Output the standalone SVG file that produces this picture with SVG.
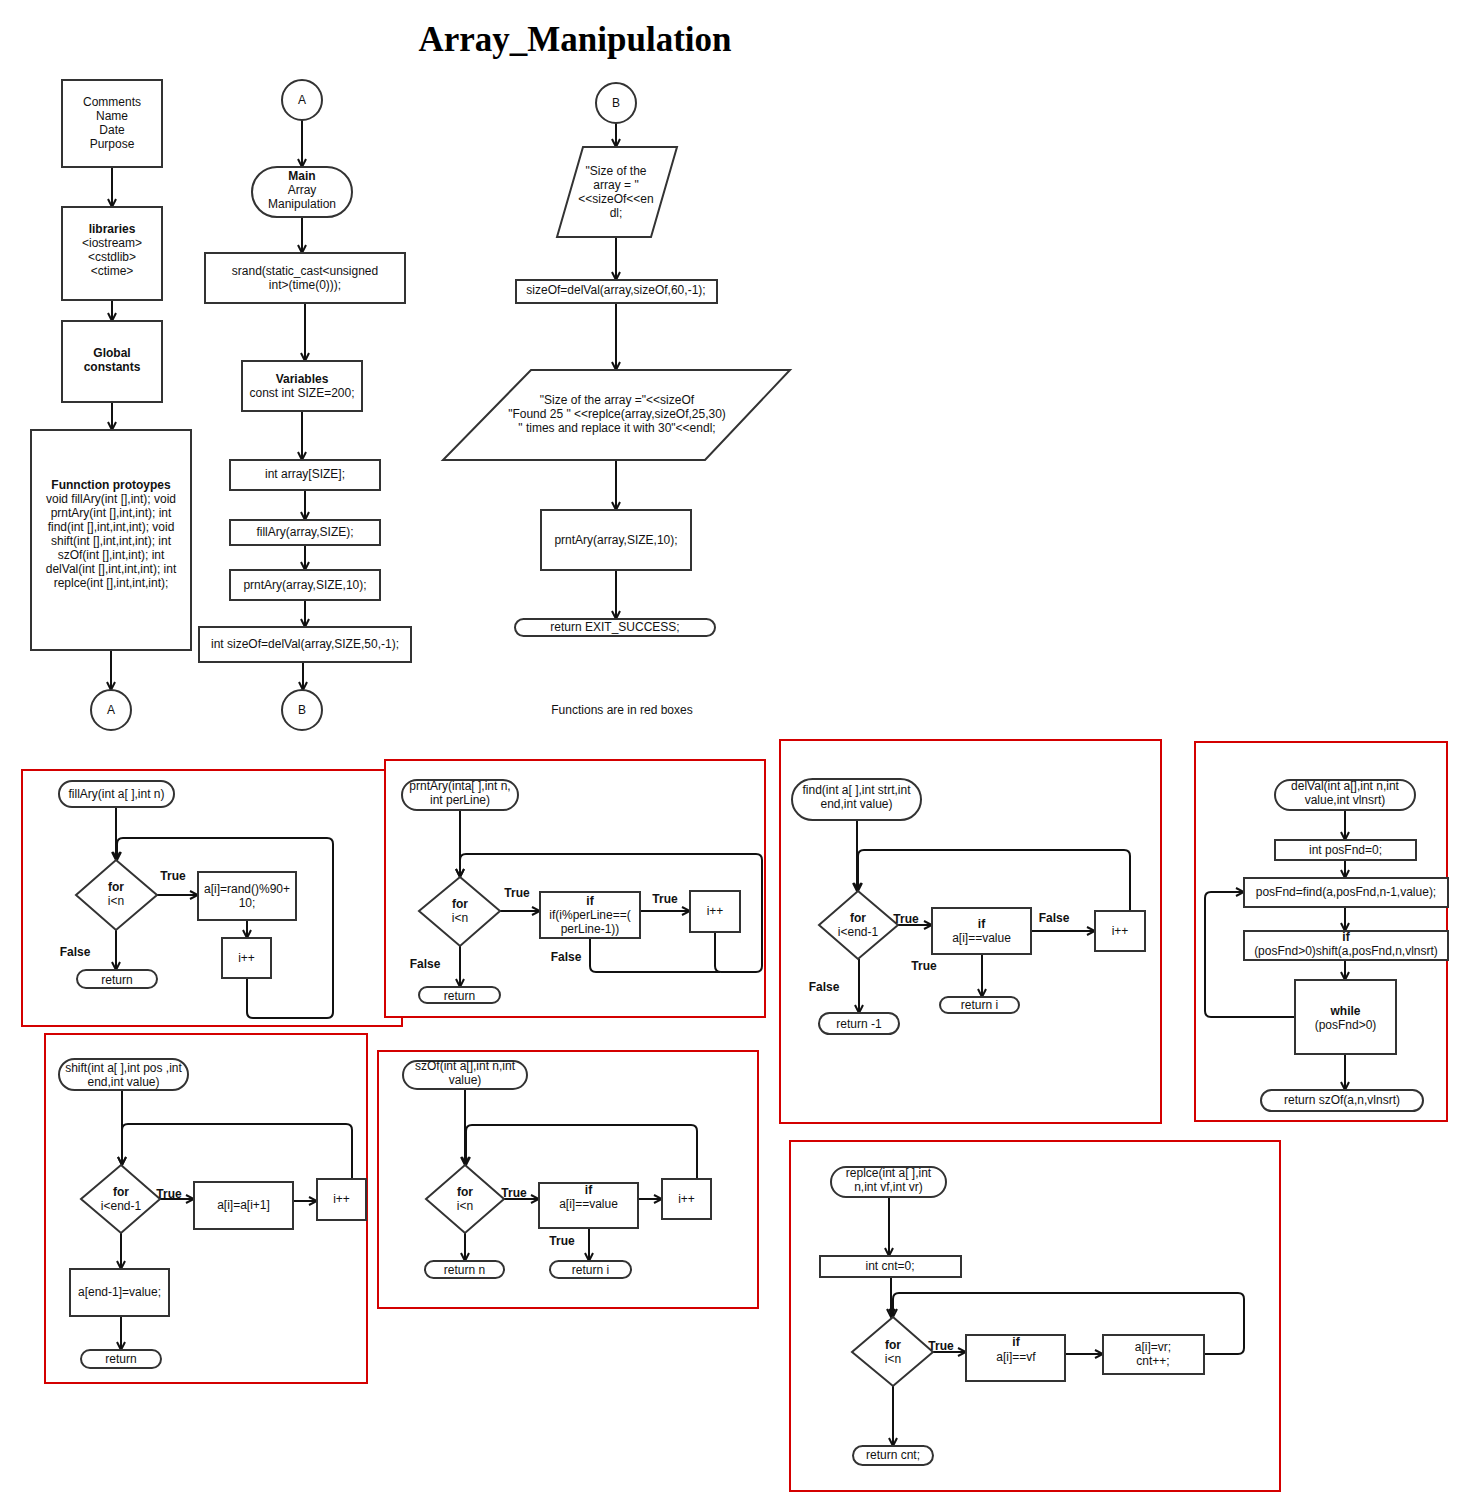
<svg xmlns="http://www.w3.org/2000/svg" width="1484" height="1511" viewBox="0 0 1484 1511">
<defs>
<style>
.n{fill:#fff;stroke:#333;stroke-width:2}
.t{font-family:"Liberation Sans",Arial,sans-serif;font-size:12px;fill:#111;text-anchor:middle}
.b{font-weight:bold}
.c{fill:none;stroke:#111;stroke-width:2;marker-end:url(#ah)}
.l{fill:none;stroke:#111;stroke-width:2}
.r{fill:#fff;stroke:#d40000;stroke-width:2}
.title{font-family:"Liberation Serif","Times New Roman",serif;font-size:35px;font-weight:bold;fill:#000;text-anchor:middle}
</style>
<marker id="ah" viewBox="0 0 10 10" refX="9" refY="5" markerWidth="10" markerHeight="10" markerUnits="userSpaceOnUse" orient="auto"><path d="M1,1 L9,5 L1,9" fill="none" stroke="#111" stroke-width="2"/></marker>
</defs>
<rect width="1484" height="1511" fill="#fff"/>
<text class="title" x="575" y="51">Array_Manipulation</text>

<!-- Red function frames -->
<g id="frames">
<rect class="r" x="22" y="770" width="380" height="256"/>
<rect class="r" x="385" y="760" width="380" height="257"/>
<rect class="r" x="780" y="740" width="381" height="383"/>
<rect class="r" x="1195" y="742" width="252" height="379"/>
<rect class="r" x="45" y="1034" width="322" height="349"/>
<rect class="r" x="378" y="1051" width="380" height="257"/>
<rect class="r" x="790" y="1141" width="490" height="350"/>
</g>

<!-- Connectors -->
<g id="connectors">
<path class="c" d="M112,167 V207"/>
<path class="c" d="M112,300 V321"/>
<path class="c" d="M112,402 V430"/>
<path class="c" d="M111,650 V690"/>
<path class="c" d="M302,120 V167"/>
<path class="c" d="M302,217 V253"/>
<path class="c" d="M305,303 V361"/>
<path class="c" d="M302,411 V460"/>
<path class="c" d="M305,490 V520"/>
<path class="c" d="M305,545 V570"/>
<path class="c" d="M305,600 V627"/>
<path class="c" d="M303,662 V690"/>
<path class="c" d="M616,123 V147"/>
<path class="c" d="M616,237 V280"/>
<path class="c" d="M616,303 V370"/>
<path class="c" d="M616,460 V510"/>
<path class="c" d="M616,570 V619"/>
<!-- fillAry -->
<path class="c" d="M116,807 V860"/>
<path class="c" d="M157,895 H198"/>
<path class="c" d="M247,920 V938"/>
<path class="c" d="M116,930 V970"/>
<path class="c" d="M247,978 V1012 Q247,1018 253,1018 H327 Q333,1018 333,1012 V844 Q333,838 327,838 H123 Q117,838 117,844 V860"/>
<!-- prntAry -->
<path class="c" d="M460,810 V877"/>
<path class="c" d="M500,911 H540"/>
<path class="c" d="M640,911 H690"/>
<path class="c" d="M460,946 V987"/>
<path class="c" d="M715,932 V966 Q715,972 721,972 H756 Q762,972 762,966 V860 Q762,854 756,854 H466 Q460,854 460,860 V877"/>
<path class="l" d="M590,938 V966 Q590,972 596,972 H720"/>
<!-- find -->
<path class="c" d="M857,820 V891"/>
<path class="c" d="M898,925 H932"/>
<path class="c" d="M1031,931 H1095"/>
<path class="c" d="M982,954 V997"/>
<path class="c" d="M859,959 V1013"/>
<path class="c" d="M1130,911 V856 Q1130,850 1124,850 H864 Q858,850 858,856 V891"/>
<!-- delVal -->
<path class="c" d="M1345,810 V840"/>
<path class="c" d="M1345,860 V878"/>
<path class="c" d="M1345,907 V931"/>
<path class="c" d="M1345,960 V980"/>
<path class="c" d="M1345,1054 V1090"/>
<path class="c" d="M1295,1017 H1211 Q1205,1017 1205,1011 V898 Q1205,892 1211,892 H1244"/>
<!-- shift -->
<path class="c" d="M122,1090 V1165"/>
<path class="c" d="M160,1199 H194"/>
<path class="c" d="M293,1201 H317"/>
<path class="c" d="M121,1233 V1269"/>
<path class="c" d="M121,1316 V1350"/>
<path class="c" d="M352,1179 V1130 Q352,1124 346,1124 H128 Q122,1124 122,1130 V1165"/>
<!-- szOf -->
<path class="c" d="M465,1089 V1165"/>
<path class="c" d="M504,1199 H539"/>
<path class="c" d="M638,1199 H662"/>
<path class="c" d="M589,1228 V1261"/>
<path class="c" d="M465,1233 V1261"/>
<path class="c" d="M697,1179 V1131 Q697,1125 691,1125 H472 Q466,1125 466,1131 V1165"/>
<!-- replce -->
<path class="c" d="M889,1197 V1256"/>
<path class="c" d="M891,1277 V1317"/>
<path class="c" d="M933,1352 H966"/>
<path class="c" d="M1065,1354 H1103"/>
<path class="c" d="M893,1386 V1446"/>
<path class="c" d="M1204,1354 H1238 Q1244,1354 1244,1348 V1299 Q1244,1293 1238,1293 H899 Q893,1293 893,1299 V1317"/>
</g>

<!-- Left column -->
<g id="comments"><rect class="n" x="62" y="80" width="100" height="87"/>
<text class="t"><tspan x="112" y="106">Comments</tspan><tspan x="112" y="120">Name</tspan><tspan x="112" y="134">Date</tspan><tspan x="112" y="148">Purpose</tspan></text></g>
<g id="libraries"><rect class="n" x="62" y="207" width="100" height="93"/>
<text class="t"><tspan class="b" x="112" y="233">libraries</tspan><tspan x="112" y="247">&lt;iostream&gt;</tspan><tspan x="112" y="261">&lt;cstdlib&gt;</tspan><tspan x="112" y="275">&lt;ctime&gt;</tspan></text></g>
<g id="globals"><rect class="n" x="62" y="321" width="100" height="81"/>
<text class="t b"><tspan x="112" y="357">Global</tspan><tspan x="112" y="371">constants</tspan></text></g>
<g id="prototypes"><rect class="n" x="31" y="430" width="160" height="220"/>
<text class="t"><tspan class="b" x="111" y="489">Funnction protoypes</tspan><tspan x="111" y="503">void fillAry(int [],int); void</tspan><tspan x="111" y="517">prntAry(int [],int,int); int</tspan><tspan x="111" y="531">find(int [],int,int,int); void</tspan><tspan x="111" y="545">shift(int [],int,int,int); int</tspan><tspan x="111" y="559">szOf(int [],int,int); int</tspan><tspan x="111" y="573">delVal(int [],int,int,int); int</tspan><tspan x="111" y="587">replce(int [],int,int,int);</tspan></text></g>
<g id="connA1"><circle class="n" cx="111" cy="710" r="20"/><text class="t" x="111" y="714">A</text></g>

<!-- Middle column -->
<g id="connA2"><circle class="n" cx="302" cy="100" r="20"/><text class="t" x="302" y="104">A</text></g>
<g id="main"><rect class="n" x="252" y="167" width="100" height="50" rx="25"/>
<text class="t"><tspan class="b" x="302" y="180">Main</tspan><tspan x="302" y="194">Array</tspan><tspan x="302" y="208">Manipulation</tspan></text></g>
<g id="srand"><rect class="n" x="205" y="253" width="200" height="50"/>
<text class="t"><tspan x="305" y="275">srand(static_cast&lt;unsigned</tspan><tspan x="305" y="289">int&gt;(time(0)));</tspan></text></g>
<g id="variables"><rect class="n" x="242" y="361" width="120" height="50"/>
<text class="t"><tspan class="b" x="302" y="383">Variables</tspan><tspan x="302" y="397">const int SIZE=200;</tspan></text></g>
<g id="intarray"><rect class="n" x="230" y="460" width="150" height="30"/><text class="t" x="305" y="478">int array[SIZE];</text></g>
<g id="fillcall"><rect class="n" x="230" y="520" width="150" height="25"/><text class="t" x="305" y="536">fillAry(array,SIZE);</text></g>
<g id="prntcall1"><rect class="n" x="230" y="570" width="150" height="30"/><text class="t" x="305" y="589">prntAry(array,SIZE,10);</text></g>
<g id="sizeofcall"><rect class="n" x="199" y="627" width="212" height="35"/><text class="t" x="305" y="648">int sizeOf=delVal(array,SIZE,50,-1);</text></g>
<g id="connB1"><circle class="n" cx="302" cy="710" r="20"/><text class="t" x="302" y="714">B</text></g>

<!-- Right column -->
<g id="connB2"><circle class="n" cx="616" cy="103" r="20"/><text class="t" x="616" y="107">B</text></g>
<g id="out1"><polygon class="n" points="583,147 677,147 651,237 557,237"/>
<text class="t"><tspan x="616" y="175">"Size of the</tspan><tspan x="616" y="189">array = "</tspan><tspan x="616" y="203">&lt;&lt;sizeOf&lt;&lt;en</tspan><tspan x="616" y="217">dl;</tspan></text></g>
<g id="delval2"><rect class="n" x="516" y="280" width="201" height="23"/><text class="t" x="616" y="294">sizeOf=delVal(array,sizeOf,60,-1);</text></g>
<g id="out2"><polygon class="n" points="531,370 790,370 705,460 443,460"/>
<text class="t"><tspan x="617" y="404">"Size of the array ="&lt;&lt;sizeOf</tspan><tspan x="617" y="418">"Found 25 " &lt;&lt;replce(array,sizeOf,25,30)</tspan><tspan x="617" y="432">" times and replace it with 30"&lt;&lt;endl;</tspan></text></g>
<g id="prntcall2"><rect class="n" x="541" y="510" width="150" height="60"/><text class="t" x="616" y="544">prntAry(array,SIZE,10);</text></g>
<g id="exit"><rect class="n" x="515" y="619" width="200" height="17" rx="8.5"/><text class="t" x="615" y="631">return EXIT_SUCCESS;</text></g>
<text class="t" x="622" y="714">Functions are in red boxes</text>

<!-- fillAry -->
<g id="fillAry">
<rect class="n" x="59" y="781" width="115" height="26" rx="13"/><text class="t" x="116.5" y="798">fillAry(int a[ ],int n)</text>
<polygon class="n" points="116,860 157,895 116,930 76,895"/><text class="t"><tspan class="b" x="116" y="891">for</tspan><tspan x="116" y="905">i&lt;n</tspan></text>
<rect class="n" x="198" y="872" width="98" height="48"/><text class="t"><tspan x="247" y="893">a[i]=rand()%90+</tspan><tspan x="247" y="907">10;</tspan></text>
<rect class="n" x="222" y="938" width="49" height="40"/><text class="t" x="246.5" y="962">i++</text>
<rect class="n" x="77" y="970" width="80" height="18" rx="9"/><text class="t" x="117" y="984">return</text>
<text class="t b" x="173" y="880">True</text><text class="t b" x="75" y="956">False</text>
</g>

<!-- prntAry -->
<g id="prntAry">
<rect class="n" x="402" y="780" width="116" height="30" rx="15"/><text class="t"><tspan x="460" y="790">prntAry(inta[ ],int n,</tspan><tspan x="460" y="804">int perLine)</tspan></text>
<polygon class="n" points="460,877 500,911 460,946 419,911"/><text class="t"><tspan class="b" x="460" y="908">for</tspan><tspan x="460" y="922">i&lt;n</tspan></text>
<rect class="n" x="540" y="892" width="100" height="46"/><text class="t"><tspan class="b" x="590" y="905">if</tspan><tspan x="590" y="919">if(i%perLine==(</tspan><tspan x="590" y="933">perLine-1))</tspan></text>
<rect class="n" x="690" y="891" width="50" height="41"/><text class="t" x="715" y="915">i++</text>
<rect class="n" x="419" y="987" width="81" height="16" rx="8"/><text class="t" x="459.5" y="1000">return</text>
<text class="t b" x="517" y="897">True</text><text class="t b" x="665" y="903">True</text><text class="t b" x="566" y="961">False</text><text class="t b" x="425" y="968">False</text>
</g>

<!-- find -->
<g id="find">
<rect class="n" x="792" y="779" width="129" height="41" rx="20.5"/><text class="t"><tspan x="856.5" y="794">find(int a[ ],int strt,int</tspan><tspan x="856.5" y="808">end,int value)</tspan></text>
<polygon class="n" points="858,891 898,925 858,959 819,925"/><text class="t"><tspan class="b" x="858" y="922">for</tspan><tspan x="858" y="936">i&lt;end-1</tspan></text>
<rect class="n" x="932" y="908" width="99" height="46"/><text class="t"><tspan class="b" x="981.5" y="928">if</tspan><tspan x="981.5" y="942">a[i]==value</tspan></text>
<rect class="n" x="1095" y="911" width="50" height="40"/><text class="t" x="1120" y="935">i++</text>
<rect class="n" x="940" y="997" width="79" height="16" rx="8"/><text class="t" x="979.5" y="1009">return i</text>
<rect class="n" x="819" y="1013" width="80" height="21" rx="10.5"/><text class="t" x="859" y="1028">return -1</text>
<text class="t b" x="906" y="923">True</text><text class="t b" x="1054" y="922">False</text><text class="t b" x="924" y="970">True</text><text class="t b" x="824" y="991">False</text>
</g>

<!-- delVal -->
<g id="delVal">
<rect class="n" x="1275" y="780" width="140" height="30" rx="15"/><text class="t"><tspan x="1345" y="790">delVal(int a[],int n,int</tspan><tspan x="1345" y="804">value,int vlnsrt)</tspan></text>
<rect class="n" x="1275" y="840" width="141" height="20"/><text class="t" x="1345.5" y="854">int posFnd=0;</text>
<rect class="n" x="1244" y="878" width="204" height="29"/><text class="t" x="1346" y="896">posFnd=find(a,posFnd,n-1,value);</text>
<rect class="n" x="1244" y="931" width="204" height="29"/><text class="t"><tspan class="b" x="1346" y="941">if</tspan><tspan x="1346" y="955">(posFnd&gt;0)shift(a,posFnd,n,vlnsrt)</tspan></text>
<rect class="n" x="1295" y="980" width="101" height="74"/><text class="t"><tspan class="b" x="1345.5" y="1015">while</tspan><tspan x="1345.5" y="1029">(posFnd&gt;0)</tspan></text>
<rect class="n" x="1261" y="1090" width="162" height="21" rx="10.5"/><text class="t" x="1342" y="1104">return szOf(a,n,vlnsrt)</text>
</g>

<!-- shift -->
<g id="shift">
<rect class="n" x="59" y="1059" width="129" height="31" rx="15.5"/><text class="t"><tspan x="123.5" y="1072">shift(int a[ ],int pos ,int</tspan><tspan x="123.5" y="1086">end,int value)</tspan></text>
<polygon class="n" points="121,1165 160,1199 121,1233 81,1199"/><text class="t"><tspan class="b" x="121" y="1196">for</tspan><tspan x="121" y="1210">i&lt;end-1</tspan></text>
<rect class="n" x="194" y="1182" width="99" height="47"/><text class="t" x="243.5" y="1209">a[i]=a[i+1]</text>
<rect class="n" x="317" y="1179" width="49" height="41"/><text class="t" x="341.5" y="1203">i++</text>
<rect class="n" x="70" y="1269" width="99" height="47"/><text class="t" x="119.5" y="1296">a[end-1]=value;</text>
<rect class="n" x="81" y="1350" width="80" height="18" rx="9"/><text class="t" x="121" y="1363">return</text>
<text class="t b" x="169" y="1198">True</text>
</g>

<!-- szOf -->
<g id="szOf">
<rect class="n" x="403" y="1061" width="124" height="28" rx="14"/><text class="t"><tspan x="465" y="1070">szOf(int a[],int n,int</tspan><tspan x="465" y="1084">value)</tspan></text>
<polygon class="n" points="465,1165 504,1199 465,1233 426,1199"/><text class="t"><tspan class="b" x="465" y="1196">for</tspan><tspan x="465" y="1210">i&lt;n</tspan></text>
<rect class="n" x="539" y="1183" width="99" height="45"/><text class="t"><tspan class="b" x="588.5" y="1194">if</tspan><tspan x="588.5" y="1208">a[i]==value</tspan></text>
<rect class="n" x="662" y="1179" width="49" height="40"/><text class="t" x="686.5" y="1203">i++</text>
<rect class="n" x="550" y="1261" width="81" height="17" rx="8.5"/><text class="t" x="590.5" y="1274">return i</text>
<rect class="n" x="425" y="1261" width="79" height="17" rx="8.5"/><text class="t" x="464.5" y="1274">return n</text>
<text class="t b" x="514" y="1197">True</text><text class="t b" x="562" y="1245">True</text>
</g>

<!-- replce -->
<g id="replce">
<rect class="n" x="831" y="1167" width="115" height="30" rx="15"/><text class="t"><tspan x="888.5" y="1177">replce(int a[ ],int</tspan><tspan x="888.5" y="1191">n,int vf,int vr)</tspan></text>
<rect class="n" x="820" y="1256" width="141" height="21"/><text class="t" x="890" y="1270">int cnt=0;</text>
<polygon class="n" points="893,1317 933,1352 893,1386 852,1352"/><text class="t"><tspan class="b" x="893" y="1349">for</tspan><tspan x="893" y="1363">i&lt;n</tspan></text>
<rect class="n" x="966" y="1335" width="99" height="46"/><text class="t"><tspan class="b" x="1016" y="1346">if</tspan><tspan x="1016" y="1361">a[i]==vf</tspan></text>
<rect class="n" x="1103" y="1335" width="101" height="39"/><text class="t"><tspan x="1153" y="1351">a[i]=vr;</tspan><tspan x="1153" y="1365">cnt++;</tspan></text>
<rect class="n" x="853" y="1446" width="80" height="19" rx="9.5"/><text class="t" x="893" y="1459">return cnt;</text>
<text class="t b" x="941" y="1350">True</text>
</g>
</svg>
